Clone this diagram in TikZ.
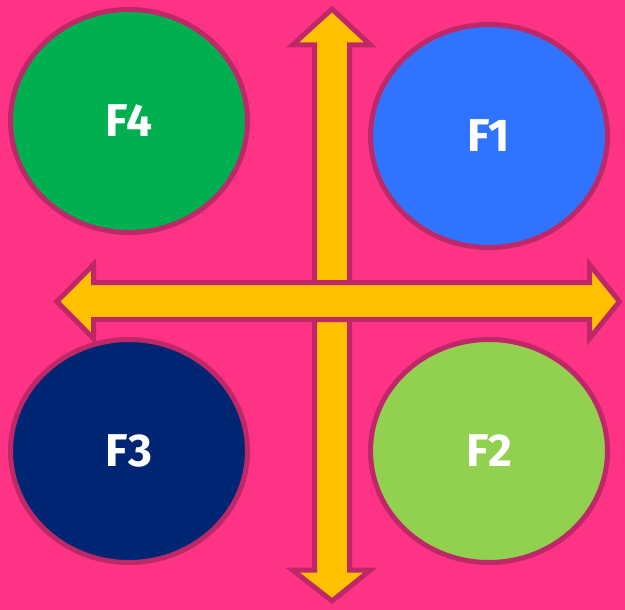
\documentclass[tikz,border=0pt]{standalone}
\usepackage{fontspec}
\setsansfont{Fira Sans}
\usetikzlibrary{shapes.geometric}

\definecolor{bgpink}{HTML}{FF3385}
\definecolor{rimpink}{HTML}{BF2868}
\definecolor{arrowgold}{HTML}{FFC000}
\definecolor{fgreen}{HTML}{00B050}
\definecolor{fblue}{HTML}{2F73FF}
\definecolor{fnavy}{HTML}{002673}
\definecolor{flime}{HTML}{92D050}

\begin{document}
\begin{tikzpicture}[x=1pt, y=-1pt,
    quad/.style={ellipse, draw=rimpink, line width=5pt, inner sep=0pt,
      minimum width=237pt, minimum height=223pt, text=white,
      font=\sffamily\bfseries\fontsize{46}{46}\selectfont},
    bigarrow/.style={fill=arrowgold, draw=rimpink, line width=5pt, line join=miter}]
  %----- 背景 -----
  \fill[bgpink] (0,0) rectangle (625,610);

  %----- 四個象限 -----
  \node[quad, fill=fgreen] (f4) at (129,121) {F4};
  \node[quad, fill=fblue]  (f1) at (489,136) {F1};
  \node[quad, fill=fnavy]  (f3) at (129,451) {F3};
  \node[quad, fill=flime]  (f2) at (489,451) {F2};

  %----- 垂直雙箭頭 -----
  \draw[bigarrow] (332,9) -- (370.5,45) -- (349.5,45) -- (349.5,570)
    -- (370.5,570) -- (332,601) -- (292.5,570) -- (314.5,570)
    -- (314.5,45) -- (292.5,45) -- cycle;

  %----- 水平雙箭頭 -----
  \draw[bigarrow] (57,301.5) -- (93.5,264.5) -- (93.5,282.5) -- (589.5,282.5)
    -- (589.5,264.5) -- (619.5,301.5) -- (589.5,338.5) -- (589.5,319.5)
    -- (93.5,319.5) -- (93.5,338.5) -- cycle;
\end{tikzpicture}
\end{document}
